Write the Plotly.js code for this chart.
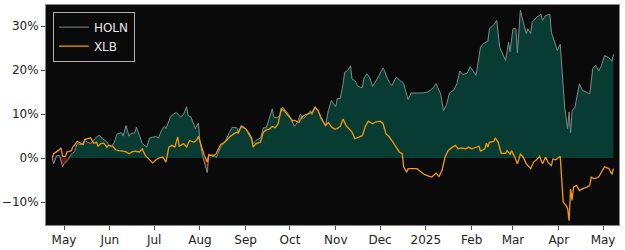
<!DOCTYPE html>
<html><head><meta charset="utf-8">
<script src="https://cdn.plot.ly/plotly-3.0.1.min.js"></script>
<style>html,body{margin:0;padding:0;background:#fff;}#chart{width:625px;height:250px;}</style>
</head><body><div id="chart"></div>
<script>
var holnDates = ["2024-04-23","2024-04-24","2024-04-26","2024-04-28","2024-04-30","2024-05-01","2024-05-04","2024-05-06","2024-05-08","2024-05-10","2024-05-13","2024-05-15","2024-05-17","2024-05-19","2024-05-23","2024-05-25","2024-05-27","2024-05-29","2024-06-02","2024-06-04","2024-06-06","2024-06-09","2024-06-10","2024-06-12","2024-06-14","2024-06-15","2024-06-18","2024-06-19","2024-06-21","2024-06-23","2024-06-26","2024-06-28","2024-07-02","2024-07-04","2024-07-06","2024-07-08","2024-07-09","2024-07-12","2024-07-14","2024-07-16","2024-07-19","2024-07-21","2024-07-23","2024-07-24","2024-07-26","2024-07-29","2024-07-31","2024-08-01","2024-08-03","2024-08-06","2024-08-07","2024-08-10","2024-08-12","2024-08-15","2024-08-17","2024-08-19","2024-08-21","2024-08-23","2024-08-26","2024-08-27","2024-08-29","2024-09-01","2024-09-03","2024-09-05","2024-09-06","2024-09-08","2024-09-11","2024-09-13","2024-09-15","2024-09-17","2024-09-19","2024-09-20","2024-09-22","2024-09-24","2024-09-26","2024-09-28","2024-09-30","2024-10-02","2024-10-04","2024-10-06","2024-10-08","2024-10-10","2024-10-12","2024-10-15","2024-10-16","2024-10-18","2024-10-20","2024-10-22","2024-10-25","2024-10-27","2024-10-29","2024-10-30","2024-11-01","2024-11-02","2024-11-04","2024-11-06","2024-11-07","2024-11-09","2024-11-11","2024-11-12","2024-11-14","2024-11-16","2024-11-19","2024-11-20","2024-11-22","2024-11-24","2024-11-26","2024-11-29","2024-12-01","2024-12-03","2024-12-04","2024-12-06","2024-12-08","2024-12-09","2024-12-12","2024-12-14","2024-12-17","2024-12-20","2024-12-22","2024-12-26","2024-12-30","2025-01-02","2025-01-04","2025-01-06","2025-01-08","2025-01-11","2025-01-13","2025-01-15","2025-01-17","2025-01-20","2025-01-22","2025-01-24","2025-01-26","2025-01-29","2025-01-31","2025-02-02","2025-02-04","2025-02-07","2025-02-09","2025-02-12","2025-02-13","2025-02-16","2025-02-18","2025-02-20","2025-02-22","2025-02-24","2025-02-26","2025-02-27","2025-03-01","2025-03-03","2025-03-04","2025-03-06","2025-03-08","2025-03-10","2025-03-11","2025-03-13","2025-03-14","2025-03-17","2025-03-20","2025-03-21","2025-03-23","2025-03-26","2025-03-27","2025-03-29","2025-03-31","2025-04-02","2025-04-04","2025-04-05","2025-04-07","2025-04-08","2025-04-09","2025-04-10","2025-04-12","2025-04-13","2025-04-15","2025-04-17","2025-04-20","2025-04-22","2025-04-24","2025-04-26","2025-04-28","2025-04-30","2025-05-02","2025-05-05","2025-05-07","2025-05-08"];
var holnValues = [0,-1.3,0.6,0.6,-2,-1.3,-0.2,1,1.4,3.3,3,4,3.6,3.3,4.8,5.2,4.4,4,2.5,3.6,5.5,5.8,5,7.4,5,5.5,5.8,7,5.2,3.3,2.5,4.6,4.9,4.6,6.3,7.2,6.7,9.3,10,10.4,9.3,10,11.7,9.7,9.3,6.7,8,4,0.2,-3.3,0.6,0.8,0.1,2.5,3.3,4.4,5.9,7,6.9,5.9,7.4,6.7,5.9,4.8,3.3,4,4.6,6.9,6.9,8.9,11.2,9.3,9.2,9.5,11.6,10.8,10,8.6,7.2,8.1,10,8.9,9.7,10.8,9.9,11.6,10.8,8.9,7.4,10.8,13.1,12.7,11.7,13.5,13.5,16.9,19.5,19.9,21,18,17.6,16.3,16,18,19.2,18.3,16.3,18,19.3,20.5,19.9,18,16.9,16.5,18.4,17.8,16.9,13.3,14.8,14.8,14.8,15,15.4,16,16.9,14.6,10.8,12.2,14.8,15.5,16.9,19.8,19,19.3,20.8,19.8,18.8,25.2,26,26.6,29.4,30.3,31.3,25.2,23.7,22.2,26.4,24.2,29.4,29.4,23.9,33.6,30.9,28.3,29.4,28.3,30.9,32,32.7,31.3,32.4,32.7,28.6,26.7,24.5,25.9,17.7,11.6,6.7,10.5,5.7,10.7,11.6,13.5,16.9,15.4,15,14.6,20.3,21.1,19.8,21.1,23.3,22.8,22,23.6];

var xlbDates = ["2024-04-23","2024-04-24","2024-04-27","2024-04-29","2024-04-30","2024-05-02","2024-05-03","2024-05-06","2024-05-07","2024-05-10","2024-05-11","2024-05-14","2024-05-15","2024-05-17","2024-05-19","2024-05-21","2024-05-23","2024-05-24","2024-05-26","2024-05-28","2024-05-30","2024-05-31","2024-06-03","2024-06-05","2024-06-07","2024-06-10","2024-06-12","2024-06-14","2024-06-16","2024-06-18","2024-06-21","2024-06-23","2024-06-25","2024-06-28","2024-06-30","2024-07-03","2024-07-05","2024-07-07","2024-07-09","2024-07-11","2024-07-13","2024-07-15","2024-07-17","2024-07-18","2024-07-21","2024-07-23","2024-07-25","2024-07-28","2024-07-30","2024-07-31","2024-08-02","2024-08-04","2024-08-06","2024-08-07","2024-08-10","2024-08-12","2024-08-15","2024-08-17","2024-08-19","2024-08-21","2024-08-24","2024-08-26","2024-08-27","2024-08-29","2024-09-01","2024-09-03","2024-09-05","2024-09-06","2024-09-08","2024-09-11","2024-09-13","2024-09-15","2024-09-17","2024-09-19","2024-09-21","2024-09-23","2024-09-25","2024-09-27","2024-09-29","2024-10-01","2024-10-03","2024-10-04","2024-10-07","2024-10-09","2024-10-11","2024-10-13","2024-10-16","2024-10-18","2024-10-20","2024-10-22","2024-10-25","2024-10-27","2024-10-29","2024-10-31","2024-11-02","2024-11-04","2024-11-06","2024-11-08","2024-11-10","2024-11-12","2024-11-14","2024-11-17","2024-11-19","2024-11-21","2024-11-23","2024-11-26","2024-11-28","2024-12-01","2024-12-03","2024-12-05","2024-12-07","2024-12-09","2024-12-12","2024-12-14","2024-12-16","2024-12-17","2024-12-19","2024-12-20","2024-12-23","2024-12-26","2024-12-29","2024-12-31","2025-01-03","2025-01-05","2025-01-07","2025-01-08","2025-01-10","2025-01-12","2025-01-14","2025-01-16","2025-01-19","2025-01-21","2025-01-23","2025-01-25","2025-01-28","2025-01-30","2025-02-01","2025-02-03","2025-02-06","2025-02-07","2025-02-10","2025-02-11","2025-02-12","2025-02-13","2025-02-16","2025-02-17","2025-02-19","2025-02-21","2025-02-24","2025-02-25","2025-02-27","2025-02-28","2025-03-02","2025-03-04","2025-03-06","2025-03-08","2025-03-10","2025-03-13","2025-03-15","2025-03-17","2025-03-19","2025-03-21","2025-03-23","2025-03-24","2025-03-25","2025-03-27","2025-03-28","2025-03-30","2025-04-02","2025-04-04","2025-04-06","2025-04-07","2025-04-08","2025-04-09","2025-04-10","2025-04-11","2025-04-13","2025-04-15","2025-04-17","2025-04-20","2025-04-22","2025-04-23","2025-04-25","2025-04-28","2025-04-30","2025-05-02","2025-05-05","2025-05-07","2025-05-08"];
var xlbValues = [0,1,1.7,2.3,0.4,0.4,1.4,1.7,2.5,3.8,3.6,3.1,4.2,4.4,4.6,3.4,3.6,2.7,3.3,3.4,2.5,2.9,2.7,1.9,1.7,1.6,1.4,1,1.4,1.6,1.4,2.1,0.6,-0.4,-1.1,-0.2,0.1,0.2,-0.9,2.5,2.9,2.5,4.8,2.7,3.3,2.5,4,3.6,4.2,4.9,2.5,0.6,-0.9,0.8,0.4,1,3.1,3.4,4,4.8,5.5,5.9,5.7,7.2,6.7,5.5,4.4,2.5,3.3,3.6,5.9,6.4,6.6,7.2,6.9,7.8,11.2,10.8,10,9.3,8.4,8.6,8.1,9.3,9.8,10,10.4,11.6,10.8,9.3,7.4,8.1,7.1,6.6,6.7,7.2,8.9,7.4,6.6,5.9,4.4,4.9,5.1,7.2,8.4,7.8,8.2,8.4,7.9,5.5,4.9,4,2.5,1.4,1,-2,-3.2,-2.4,-2.4,-2.4,-3.2,-3.7,-4.1,-4.3,-3.7,-3.4,-4.2,-2.7,0.2,1.7,2.5,2.9,2.1,2.3,2.1,2.5,2.1,2.3,2.7,1.6,2.1,3.4,2.5,3.6,3.8,4.6,3.6,1.1,1.1,1.7,0.9,1.7,0.4,-1.3,0.9,0.2,-1.3,-2.4,-0.9,-0.4,0.4,-1.3,0.2,-0.4,-1.1,-1.7,-0.2,-0.4,0.4,-10,-10.8,-11.5,-14.2,-7,-9.6,-6.6,-6.2,-7.4,-7,-6.6,-6.2,-4.3,-4.7,-4.3,-3.2,-2,-2.4,-3.7,-2.4];

var monthTicks = ["2024-05-01","2024-06-01","2024-07-01","2024-08-01","2024-09-01","2024-10-01","2024-11-01","2024-12-01","2025-01-01","2025-02-01","2025-03-01","2025-04-01","2025-05-01"];
var monthLabels = ["May","Jun","Jul","Aug","Sep","Oct","Nov","Dec","2025","Feb","Mar","Apr","May"];
var yTicks = [-10, 0, 10, 20, 30];
var yTickLabels = ["\u221210%","0%","10%","20%","30%"];

var holnPos = holnValues.map(function(v){return Math.max(v,0);});
var holnNeg = holnValues.map(function(v){return Math.min(v,0);});

var traces = [
  {x: holnDates, y: holnPos, type:'scatter', mode:'lines', line:{width:0, color:'rgba(0,0,0,0)'}, fill:'tozeroy', fillcolor:'#083b31', showlegend:false, hoverinfo:'skip'},
  {x: holnDates, y: holnNeg, type:'scatter', mode:'lines', line:{width:0, color:'rgba(0,0,0,0)'}, fill:'tozeroy', fillcolor:'#6b1212', showlegend:false, hoverinfo:'skip'},
  {x: holnDates, y: holnValues, type:'scatter', mode:'lines', name:'HOLN', line:{color:'#7d8c8a', width:1}},
  {x: xlbDates, y: xlbValues, type:'scatter', mode:'lines', name:'XLB', line:{color:'#f29a0c', width:1.3}}
];

var layout = {
  width:625, height:250,
  margin:{l:46, r:6, t:5, b:25},
  paper_bgcolor:'#ffffff', plot_bgcolor:'#0a0a0a',
  font:{family:'DejaVu Sans', size:12, color:'#222'},
  showlegend:true,
  legend:{x:0.012, y:0.97, xanchor:'left', yanchor:'top', bgcolor:'#0a0a0a', bordercolor:'#b0b0b0', borderwidth:1, font:{color:'#e8e8e8', size:12, family:'DejaVu Sans'}, itemwidth:30, tracegroupgap:0},
  xaxis:{type:'date', range:['2024-04-18 19:00','2025-05-11 19:00'], tickmode:'array', tickvals:monthTicks, ticktext:monthLabels, ticks:'outside', ticklen:4, tickcolor:'#444', showgrid:false, zeroline:false, showline:true, linecolor:'#888', mirror:true, tickfont:{size:12, color:'#222'}},
  yaxis:{range:[-15.2,34.8], tickmode:'array', tickvals:yTicks, ticktext:yTickLabels, ticks:'outside', ticklen:4, tickcolor:'#444', showgrid:false, zeroline:false, showline:true, linecolor:'#888', mirror:true, tickfont:{size:12, color:'#222'}}
};

Plotly.newPlot('chart', traces, layout, {staticPlot:true, displayModeBar:false});
</script></body></html>
